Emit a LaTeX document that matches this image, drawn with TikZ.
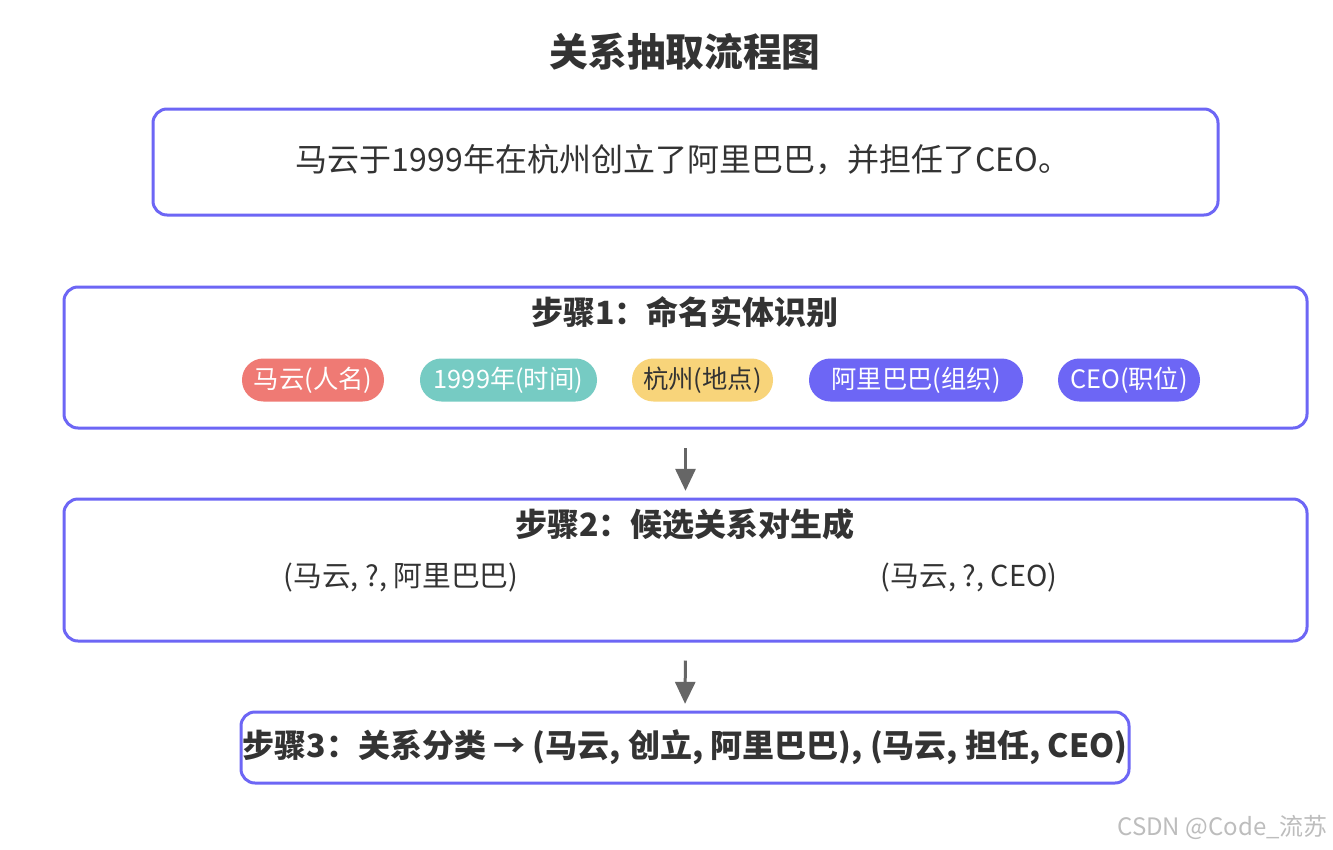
\documentclass[tikz,border=0pt]{standalone}
\usepackage{fontspec}
\setmainfont{Noto Sans CJK SC}
\usetikzlibrary{arrows.meta}
\definecolor{boxc}{HTML}{6D66F5}
\definecolor{txt}{HTML}{333333}
\definecolor{arrc}{HTML}{666666}
\definecolor{salmon}{HTML}{EF7A74}
\definecolor{teal}{HTML}{76CBC3}
\definecolor{yell}{HTML}{F8D47A}
\definecolor{wm}{HTML}{BDBDBD}
\tikzset{
  frame/.style={draw=boxc, line width=2.25pt, rounded corners=10.5pt, fill=white, inner sep=0pt},
  pill/.style={rounded corners=16pt, minimum height=32.25pt, inner xsep=0pt, inner ysep=0pt, font=\fontsize{19pt}{22pt}\selectfont, text=white},
  flowarr/.style={draw=arrc, line width=2.25pt, -{Triangle[width=15pt,length=16.5pt]}},
  bodytext/.style={text=txt, inner sep=0pt, font=\fontsize{24pt}{28pt}\selectfont},
  steptitle/.style={text=txt, inner sep=0pt, font=\fontsize{24pt}{28pt}\selectfont\bfseries},
  itemtext/.style={text=txt, inner sep=0pt, font=\fontsize{21.6pt}{25pt}\selectfont}
}
\begin{document}
\begin{tikzpicture}[x=0.75pt,y=-0.75pt]
\useasboundingbox[fill=white] (0,0) rectangle (1333,849);
\node[text=txt, font=\fontsize{29pt}{34pt}\selectfont\bfseries, inner sep=0pt] (title) at (685,52) {关系抽取流程图};
\node[frame, minimum width=798.75pt, minimum height=79.5pt] (b1) at (685.5,162) {};
\node[bodytext] (sent) at (683,160) {马云于1999年在杭州创立了阿里巴巴，并担任了CEO。};
\node[frame, minimum width=932.25pt, minimum height=105.75pt] (b2) at (685.5,357.5) {};
\node[steptitle] (s1) at (685,312) {步骤1：命名实体识别};
\node[pill, fill=salmon, minimum width=106.5pt] (p1) at (313,380) {马云(人名)};
\node[pill, fill=teal, minimum width=132.75pt] (p2) at (508.5,380) {1999年(时间)};
\node[pill, fill=yell, text=txt, minimum width=105.75pt] (p3) at (702.5,380) {杭州(地点)};
\node[pill, fill=boxc, minimum width=160.5pt] (p4) at (916,380) {阿里巴巴(组织)};
\node[pill, fill=boxc, minimum width=106.5pt] (p5) at (1129,380) {CEO(职位)};
\node[frame, minimum width=932.25pt, minimum height=106.5pt] (b3) at (685.5,570) {};
\node[steptitle] (s2) at (685,524) {步骤2：候选关系对生成};
\node[itemtext] (c1) at (401,578) {(马云, ?, 阿里巴巴)};
\node[itemtext] (c2) at (969,578) {(马云, ?, CEO)};
\node[frame, minimum width=666pt, minimum height=53.25pt] (b4) at (685,747.5) {};
\node[steptitle] (s3) at (685,747) {步骤3：关系分类 → (马云, 创立, 阿里巴巴), (马云, 担任, CEO)};
\draw[flowarr, shorten <=14pt, shorten >=5pt] (b2.south) -- (b3.north);
\draw[flowarr, shorten <=13.5pt, shorten >=5pt] (b3.south) -- (b4.north);
\node[anchor=east, text=wm, inner sep=0pt, font=\fontsize{18pt}{21pt}\selectfont] (wmk) at (1328,827) {CSDN @Code\_流苏};
\end{tikzpicture}
\end{document}
